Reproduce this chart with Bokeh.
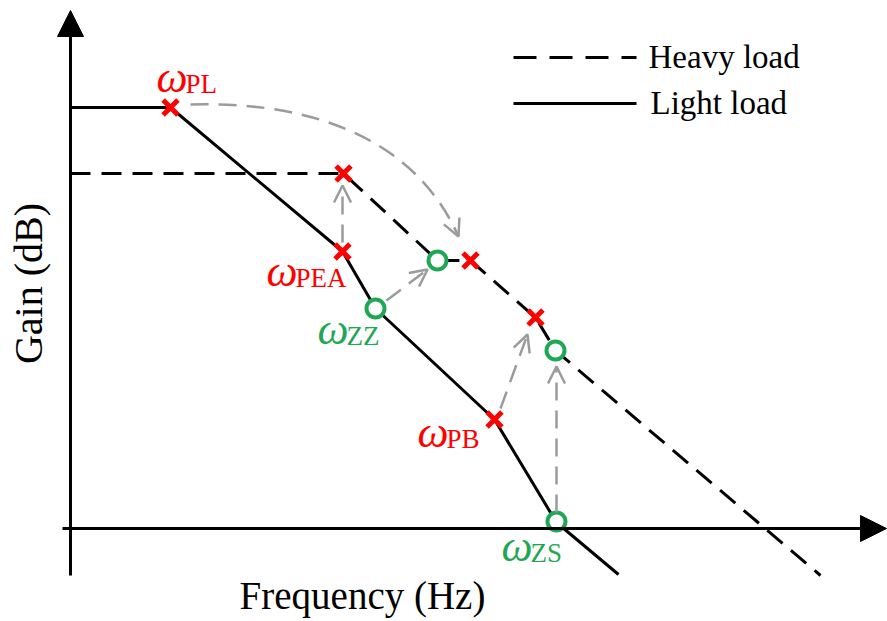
import numpy as np
from bokeh.plotting import figure
from bokeh.models import Range1d, Arrow, NormalHead, OpenHead, ColumnDataSource
from bokeh.core.properties import value
from bokeh.embed import file_html
from bokeh.resources import INLINE

# ---------------- data (schematic units; origin at axes crossing) ----------------
light_x = [0, 100, 272, 305, 424, 486, 548]
light_y = [421, 421, 277, 220, 109, 6, -46]

heavy_x = [0, 273, 367, 400, 465, 485, 750]
heavy_y = [355, 355, 268, 268, 211, 178, -47]

pole_x = [100, 272, 273, 400, 465, 424]
pole_y = [421, 277, 355, 268, 211, 109]

zero_x = [305, 367, 485, 486]
zero_y = [220, 268, 178, 7]

# gray shift arrows (start -> end)
shift_x0 = [272, 316, 430, 486]
shift_y0 = [286, 228, 120, 16]
shift_x1 = [272, 357, 457, 486]
shift_y1 = [343, 259, 194, 162]

# curved arrow (cubic bezier) from omega_PL to moved pole
curve_pts_x = [120, 260, 350, 388]
curve_pts_y = [424, 428, 378, 292]

# labels: omega + subscript
lab_sub = ["PL", "PEA", "ZZ", "PB", "ZS"]
lab_x = [86, 196, 247, 347, 431]
lab_y = [451, 257, 199, 96, -18]
lab_col = ["#ff0000", "#ff0000", "#1fa854", "#ff0000", "#1fa854"]

legend_labels = ["Heavy load", "Light load"]
x_title = "Frequency (Hz)"
y_title = "Gain (dB)"

FONT = value("Liberation Serif")
GRAY = "#9b9b9b"

p = figure(width=887, height=621, x_range=Range1d(-70, 817), y_range=Range1d(-93, 528),
           output_backend="svg", toolbar_location=None, x_axis_type=None, y_axis_type=None,
           min_border=0, outline_line_color=None)
p.grid.visible = False

# axes with arrowheads
p.add_layout(Arrow(x_start=0, y_start=-47, x_end=0, y_end=518, line_width=3, line_color="black",
                   end=NormalHead(size=26, fill_color="black", line_color="black")))
p.add_layout(Arrow(x_start=-8, y_start=0, x_end=816, y_end=0, line_width=3, line_color="black",
                   end=NormalHead(size=26, fill_color="black", line_color="black")))

# curves
p.line(heavy_x, heavy_y, line_color="black", line_width=3, line_dash="20 11")
p.line(light_x, light_y, line_color="black", line_width=3)

# gray curved arrow
p.bezier(x0=[curve_pts_x[0]], y0=[curve_pts_y[0]], x1=[curve_pts_x[3]], y1=[curve_pts_y[3]],
         cx0=[curve_pts_x[1]], cy0=[curve_pts_y[1]], cx1=[curve_pts_x[2]], cy1=[curve_pts_y[2]],
         line_color=GRAY, line_width=2.5, line_dash="18 10")
tx = curve_pts_x[3] - curve_pts_x[2]
ty = curve_pts_y[3] - curve_pts_y[2]
p.add_layout(Arrow(x_start=curve_pts_x[3] - 0.05 * tx, y_start=curve_pts_y[3] - 0.05 * ty,
                   x_end=curve_pts_x[3], y_end=curve_pts_y[3], line_alpha=0,
                   end=OpenHead(size=17, line_color=GRAY, line_width=2.5)))

# gray straight arrows
for xs, ys, xe, ye in zip(shift_x0, shift_y0, shift_x1, shift_y1):
    p.add_layout(Arrow(x_start=xs, y_start=ys, x_end=xe, y_end=ye, line_color=GRAY,
                       line_width=2.5, line_dash="18 10",
                       end=OpenHead(size=17, line_color=GRAY, line_width=2.5)))

# markers
p.scatter(pole_x, pole_y, marker="x", size=21, line_color="#ff0000", line_width=5)
p.scatter(zero_x, zero_y, marker="circle", size=18, line_color="#1fa854", fill_color="white",
          line_width=4)

# labels
src = ColumnDataSource(dict(x=lab_x, y=lab_y, sx=[v + 29 for v in lab_x],
                            om=["\u03c9"] * len(lab_x), sub=lab_sub, c=lab_col))
p.text(x="x", y="y", text="om", source=src, text_color="c", text_font=FONT,
       text_font_style="italic", text_font_size=value("44px"), text_baseline="alphabetic",
       text_align="left")
p.text(x="sx", y="y", text="sub", source=src, text_color="c", text_font=FONT,
       text_font_size=value("27px"), text_baseline="alphabetic", text_align="left", y_offset=6)

# legend (drawn manually)
p.line([443, 566], [471, 471], line_color="black", line_width=3, line_dash="23 13")
p.line([443, 566], [425, 425], line_color="black", line_width=3)
p.text(x=[578, 580], y=[472, 426], text=legend_labels, text_font=FONT,
       text_font_size=value("33px"), text_baseline="alphabetic", text_align="left",
       text_color="black")

# axis titles
p.text(x=[292], y=[-67], text=[x_title], text_font=FONT, text_font_size=value("39px"),
       text_baseline="alphabetic", text_align="center", text_color="black")
p.text(x=[-42], y=[245], text=[y_title], text_font=FONT, text_font_size=value("40px"),
       text_baseline="middle", text_align="center", text_color="black", angle=np.pi / 2)

open("out.html", "w").write(file_html(p, INLINE))
